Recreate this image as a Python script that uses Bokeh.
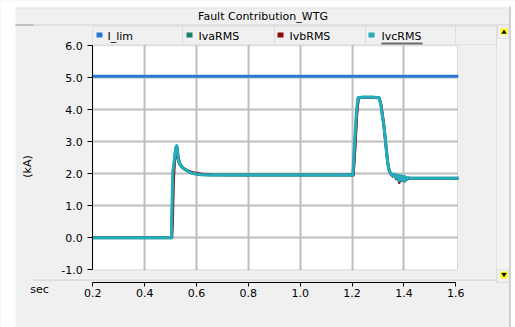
from bokeh.plotting import figure
from bokeh.models import (Range1d, BoxAnnotation, Label, PolyAnnotation,
                          FixedTicker, NumeralTickFormatter)
from bokeh.embed import file_html
from bokeh.resources import INLINE

# ---------------- data ----------------
title_text = "Fault Contribution_WTG"
series_names = ["I_lim", "IvaRMS", "IvbRMS", "IvcRMS"]
x_ticks = [0.2, 0.4, 0.6, 0.8, 1.0, 1.2, 1.4, 1.6]
y_ticks = [-1.0, 0.0, 1.0, 2.0, 3.0, 4.0, 5.0, 6.0]

t_lim = [0.20, 1.61]
i_lim = [5.05, 5.05]

t_iva = [0.20, 0.504, 0.507, 0.510, 0.514, 0.518, 0.522, 0.525, 0.529, 0.535,
         0.545, 0.555, 0.567, 0.580, 0.595, 0.610, 0.630, 0.660, 0.800, 1.000,
         1.204, 1.211, 1.218, 1.224, 1.240, 1.280, 1.304, 1.311, 1.317, 1.323,
         1.330, 1.337, 1.343, 1.350, 1.357, 1.364, 1.371, 1.378, 1.384, 1.390,
         1.396, 1.402, 1.408, 1.415, 1.425, 1.500, 1.610]
iva = [0.00, 0.00, 1.00, 2.05, 2.30, 2.62, 2.82, 2.84, 2.55, 2.33,
       2.21, 2.14, 2.08, 2.03, 2.00, 1.98, 1.97, 1.96, 1.96, 1.96,
       1.96, 2.95, 3.92, 4.38, 4.39, 4.39, 4.38, 4.18, 3.82, 3.50,
       2.95, 2.38, 2.10, 2.00, 1.94, 1.98, 1.86, 1.95, 1.80, 1.93,
       1.79, 1.91, 1.81, 1.87, 1.86, 1.86, 1.86]

t_ivb = [0.20, 0.505, 0.508, 0.511, 0.515, 0.519, 0.523, 0.527, 0.531, 0.537,
         0.545, 0.555, 0.567, 0.580, 0.595, 0.610, 0.630, 0.660, 0.800, 1.000,
         1.205, 1.212, 1.219, 1.225, 1.240, 1.280, 1.305, 1.312, 1.318, 1.324,
         1.331, 1.338, 1.344, 1.350, 1.357, 1.364, 1.370, 1.376, 1.382, 1.387,
         1.392, 1.397, 1.402, 1.408, 1.414, 1.425, 1.500, 1.610]
ivb = [0.00, 0.00, 0.50, 1.60, 2.30, 2.55, 2.72, 2.55, 2.38, 2.27,
       2.20, 2.15, 2.10, 2.06, 2.03, 2.01, 1.99, 1.97, 1.96, 1.96,
       1.96, 2.80, 3.90, 4.37, 4.38, 4.38, 4.37, 4.15, 3.80, 3.40,
       2.80, 2.30, 2.08, 1.98, 1.92, 1.97, 1.84, 1.93, 1.72, 1.91,
       1.79, 1.90, 1.77, 1.88, 1.84, 1.86, 1.86, 1.86]

t_ivc = [0.20, 0.503, 0.506, 0.509, 0.513, 0.517, 0.521, 0.524, 0.527, 0.531,
         0.537, 0.545, 0.555, 0.567, 0.580, 0.595, 0.610, 0.630, 0.660, 0.800,
         1.000, 1.203, 1.210, 1.217, 1.223, 1.240, 1.280, 1.303, 1.310, 1.316,
         1.322, 1.329, 1.336, 1.342, 1.348, 1.355, 1.362, 1.368, 1.374, 1.380,
         1.385, 1.390, 1.395, 1.400, 1.405, 1.410, 1.416, 1.425, 1.500, 1.610]
ivc = [0.00, 0.00, 1.20, 2.10, 2.35, 2.65, 2.85, 2.88, 2.62, 2.40,
       2.28, 2.20, 2.14, 2.08, 2.03, 2.00, 1.98, 1.97, 1.96, 1.96,
       1.96, 1.96, 3.00, 3.95, 4.38, 4.39, 4.39, 4.38, 4.20, 3.85,
       3.55, 3.00, 2.42, 2.12, 2.02, 1.95, 1.99, 1.88, 1.96, 1.78,
       1.94, 1.80, 1.92, 1.76, 1.90, 1.83, 1.88, 1.86, 1.86, 1.86]

colors = {"I_lim": "#2a78d2", "IvaRMS": "#1b8068", "IvbRMS": "#8c0a0a", "IvcRMS": "#22acbc"}

# ---------------- layout (canvas px) ----------------
W, H = 515, 327
PX_X0, PX_X1 = 92.3, 455.3      # canvas x of 0.2 and 1.6
PX_Y0, PX_Y6 = 237.3, 45.3      # canvas y of 0.0 and 6.0
PLOT_RIGHT_PX = 457.0
XAXIS_PX = 282.0
FONT = "DejaVu Sans"
GRAY = "#f0f0f0"

sx = (PX_X1 - PX_X0) / 1.4
sy = (PX_Y0 - PX_Y6) / 6.0
x_start = 0.2 - PX_X0 / sx
x_end = x_start + W / sx
y_top = PX_Y0 / sy
y_bot = -(H - PX_Y0) / sy
plot_right = 0.2 + (PLOT_RIGHT_PX - PX_X0) / sx
xaxis_val = -(XAXIS_PX - PX_Y0) / sy

p = figure(width=W, height=H, output_backend="svg", toolbar_location=None,
           x_range=Range1d(x_start, x_end), y_range=Range1d(y_bot, y_top),
           min_border_left=0, min_border_right=0, min_border_top=0, min_border_bottom=0,
           background_fill_color=GRAY, border_fill_color=GRAY,
           outline_line_color=None)

# white plot area (data -1..6)
p.add_layout(BoxAnnotation(left=0.2, right=plot_right, bottom=-1.0, top=6.0,
                           fill_color="white", fill_alpha=1.0,
                           line_color=None, level="image"))

# grids
p.xgrid.ticker = FixedTicker(ticks=x_ticks[1:-1])
p.ygrid.ticker = FixedTicker(ticks=y_ticks[1:-1])
for g in (p.xgrid, p.ygrid):
    g.grid_line_color = "#bdbdbd"
    g.grid_line_width = 2


def box(x0, y0, x1, y1, fill=None, line=None, lw=1, level="annotation"):
    p.add_layout(BoxAnnotation(
        left=x0, right=x1, top=H - y0, bottom=H - y1,
        left_units="screen", right_units="screen",
        top_units="screen", bottom_units="screen",
        fill_color=fill if fill else "white", fill_alpha=1.0 if fill else 0.0,
        line_color=line, line_width=lw, level=level))


# gray covers hiding grid lines outside the plot area (drawn above grid, below data)
PT, PB, PL = PX_Y6 - 0.5, PX_Y0 + sy + 0.5, PX_X0 - 0.5
box(0, 0, W, PT, fill=GRAY, level="underlay")
box(0, PB, W, H, fill=GRAY, level="underlay")
box(0, 0, PL, H, fill=GRAY, level="underlay")
box(PLOT_RIGHT_PX, 0, W, H, fill=GRAY, level="underlay")
# plot area border
p.add_layout(BoxAnnotation(left=0.2, right=plot_right, bottom=-1.0, top=6.0,
                           fill_alpha=0.0, line_color="#a0a0a0", line_width=1,
                           level="underlay"))

# axes (fixed inside the canvas)
p.xaxis.fixed_location = xaxis_val
p.yaxis.fixed_location = 0.2
p.xaxis.ticker = FixedTicker(ticks=x_ticks)
p.yaxis.ticker = FixedTicker(ticks=y_ticks)
p.xaxis.formatter = NumeralTickFormatter(format="0.0")
p.yaxis.formatter = NumeralTickFormatter(format="0.0")
p.xaxis.bounds = (0.2, 1.6)
p.yaxis.bounds = (-1.0, 6.0)
for ax in (p.xaxis, p.yaxis):
    ax.axis_line_color = "black"
    ax.major_tick_line_color = "black"
    ax.minor_tick_line_color = None
    ax.major_tick_in = 0
    ax.major_label_text_font = FONT
    ax.major_label_text_font_size = "11px"
    ax.major_label_text_color = "#000000"
p.xaxis.major_tick_out = 4
p.xaxis.major_label_standoff = 2
p.yaxis.major_tick_out = 5
p.yaxis.major_label_standoff = 5

# series
p.line(t_lim, i_lim, line_color=colors["I_lim"], line_width=3)
p.line(t_iva, iva, line_color=colors["IvaRMS"], line_width=3, line_join="round")
p.line(t_ivb, ivb, line_color=colors["IvbRMS"], line_width=2.5, line_join="round")
p.line(t_ivc, ivc, line_color=colors["IvcRMS"], line_width=3, line_join="round")


# ---------------- window chrome (screen units; frame == whole canvas) ----------------
def poly(pts, color):
    p.add_layout(PolyAnnotation(
        xs=[x for x, _ in pts], ys=[H - y for _, y in pts],
        xs_units="screen", ys_units="screen",
        fill_color=color, fill_alpha=1.0, line_color=color, line_width=1))


def text(x, y, s, size="11px", align="left", baseline="middle", angle=0.0, color="#000000"):
    p.add_layout(Label(x=x, y=H - y, x_units="screen", y_units="screen",
                       text=s, text_font=FONT, text_font_size=size,
                       text_align=align, text_baseline=baseline, angle=angle,
                       text_color=color))


# white margins around the panel
box(0, 0, 15, H, fill="white")
box(0, 0, W, 7, fill="white")
box(510, 0, W, H, fill="white")
box(509, 6, 510, H, fill="#a8a8a8")
box(15, 7, 509, 8, fill="#e2e2e2")

# title bar separator
box(15, 24, 496, 25, fill="#d0d0d0")
box(15, 24, 33, 25, fill="#a0a0a0")

# legend cells
cells = [(92, 182), (182, 274), (274, 365), (365, 455), (455, 496)]
for (a, b) in cells:
    box(a, 26, b, 44, fill=GRAY, line="#c4c4c4")

# panel separator above x axis strip
box(33, 278, 496, 279, fill="#fbfbfb")
box(33, 279, 496, 280, fill="#c8c8c8")

# scrollbar
box(496, 24, 509, 282, fill="#f4f4f4", line="#b8b8b8")
box(497, 25, 508, 38, fill=GRAY, line="#c0c0c0")
box(497, 269, 508, 282, fill=GRAY, line="#c0c0c0")
box(500, 28, 507, 34, fill="#ffff00")
box(500, 271, 507, 278, fill="#ffff00")
poly([(501, 33), (506, 33), (503.5, 29.5)], "black")
poly([(501, 272.5), (506, 272.5), (503.5, 276.5)], "black")

# title
text(262.5, 16, title_text, align="center")

# legend entries
leg_sq = [96, 186, 277, 368]
leg_tx = [107, 198, 289, 381]
for name, lx, tx in zip(series_names, leg_sq, leg_tx):
    box(lx, 32, lx + 6, 37, fill=colors[name])
    text(tx, 35.5, name)
box(381, 42, 422, 44, fill="#6a6a6a")

# axis titles
text(27, 166, "(kA)", align="center", angle=1.5707963)
text(39, 289, "sec", align="center")

open("out.html", "w").write(file_html(p, INLINE))
